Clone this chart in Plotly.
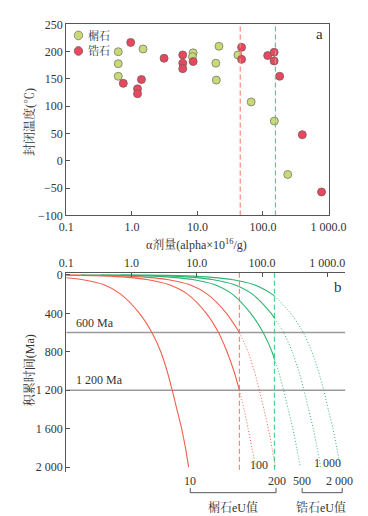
import numpy as np
import plotly.graph_objects as go

# ---- panel a: closure temperature vs alpha dose ----
sphene_dose = [0.62, 0.62, 0.62, 1.48, 8.6, 8.4, 21.3, 19.1, 19.4, 41.4, 66, 149, 239]
sphene_temp = [200, 178, 155, 205, 198, 191, 210, 179, 148, 194, 108, 73, -25]
zircon_dose = [0.96, 0.74, 1.22, 1.22, 1.40, 3.1, 5.97, 5.97, 5.97, 8.6, 47.2, 47.2, 118, 148, 148, 180, 398, 783]
zircon_temp = [217, 142, 132, 123, 149, 188, 194, 179, 169, 182, 208, 186, 193, 199, 183, 155, 48, -57]

# threshold doses (dashed lines)
sphene_cut = 45
zircon_cut = 155

# ---- panel b: accumulation time vs alpha dose for eU values ----
ages = [1, 5, 10, 25, 50, 100, 200, 400, 600, 800, 1000, 1200, 1400, 1600, 1800, 2000]
dose_eu10 = [0.0033, 0.016, 0.033, 0.082, 0.18, 0.37, 0.68, 1.32, 2.05, 2.8, 3.5, 4.2, 4.95, 5.85, 6.7, 7.5]
dose_eu100 = [0.035, 0.17, 0.35, 0.88, 1.8, 3.7, 7.2, 14, 21.5, 29, 37, 45, 53, 61, 70, 80]
dose_eu200 = [0.07, 0.35, 0.7, 1.75, 3.7, 7.6, 14.5, 28.5, 45, 61, 76, 91, 107, 125, 142, 160]
dose_eu500 = [0.17, 0.85, 1.7, 4.2, 9, 18.5, 35, 67, 104, 142, 178, 214, 252, 296, 340, 385]
dose_eu1000 = [0.34, 1.7, 3.4, 8.5, 18, 37, 71, 138, 214, 290, 365, 440, 518, 610, 700, 790]
dose_eu2000 = [0.68, 3.4, 6.8, 17, 36, 74, 142, 275, 428, 580, 730, 880, 1035, 1220, 1400, 1580]

# age where each curve crosses its threshold line
split_eu100 = 1200
split_eu200 = 600
split_eu500 = 880
split_eu1000 = 450
split_eu2000 = 220

ref_ages = [600, 1200]
ref_labels = ['600 Ma', '1 200 Ma']

RED = '#f0604d'
GREEN = '#2fb574'
RED_DASH = '#f4877a'
GREEN_DASH = '#4fcf8e'
SPHENE_FILL = '#c7d978'
ZIRCON_FILL = '#e8485f'
FONT = 'Liberation Serif, Noto Serif CJK SC, Noto Sans CJK SC'
W, H = 368, 516


def fx(x):
    return x / W


def fy(y):
    return 1 - y / H


fig = go.Figure()

fig.add_trace(go.Scatter(
    x=sphene_dose, y=sphene_temp, mode='markers', name='榍石', showlegend=False,
    marker=dict(size=8, color=SPHENE_FILL, line=dict(color='#7a7a6a', width=0.8)),
    xaxis='x', yaxis='y'))
fig.add_trace(go.Scatter(
    x=zircon_dose, y=zircon_temp, mode='markers', name='锆石', showlegend=False,
    marker=dict(size=8, color=ZIRCON_FILL, line=dict(color='#7a5a5a', width=0.8)),
    xaxis='x', yaxis='y'))

# dashed threshold lines in both panels
for cut, col in [(sphene_cut, RED_DASH), (zircon_cut, GREEN_DASH)]:
    fig.add_trace(go.Scatter(x=[cut, cut], y=[-100, 250], mode='lines', showlegend=False,
                             line=dict(color=col, width=1.2, dash='5px,3px'),
                             xaxis='x', yaxis='y', hoverinfo='skip'))
    fig.add_trace(go.Scatter(x=[cut, cut], y=[-22, 2030], mode='lines', showlegend=False,
                             line=dict(color=col, width=1.2, dash='5px,3px'),
                             xaxis='x2', yaxis='y2', hoverinfo='skip'))

# reference age lines
for a in ref_ages:
    fig.add_trace(go.Scatter(x=[0.1, 1900], y=[a, a], mode='lines', showlegend=False,
                             line=dict(color='#9a9a9a', width=1.4),
                             xaxis='x2', yaxis='y2', hoverinfo='skip'))


def add_curve(doses, split, cut, col):
    if split is None:
        fig.add_trace(go.Scatter(x=doses, y=ages, mode='lines', showlegend=False,
                                 line=dict(color=col, width=1.1, shape='spline', smoothing=0.8),
                                 xaxis='x2', yaxis='y2', hoverinfo='skip'))
        return
    sx = [d for d, a in zip(doses, ages) if a < split] + [cut]
    sy = [a for a in ages if a < split] + [split]
    dx = [cut] + [d for d, a in zip(doses, ages) if a > split]
    dy = [split] + [a for a in ages if a > split]
    fig.add_trace(go.Scatter(x=sx, y=sy, mode='lines', showlegend=False,
                             line=dict(color=col, width=1.1, shape='spline', smoothing=0.8),
                             xaxis='x2', yaxis='y2', hoverinfo='skip'))
    fig.add_trace(go.Scatter(x=dx, y=dy, mode='lines', showlegend=False,
                             line=dict(color=col, width=1, dash='1px,2px', shape='spline', smoothing=0.8),
                             xaxis='x2', yaxis='y2', hoverinfo='skip'))


add_curve(dose_eu10, None, sphene_cut, RED)
add_curve(dose_eu100, split_eu100, sphene_cut, RED)
add_curve(dose_eu200, split_eu200, sphene_cut, RED)
add_curve(dose_eu500, split_eu500, zircon_cut, GREEN)
add_curve(dose_eu1000, split_eu1000, zircon_cut, GREEN)
add_curve(dose_eu2000, split_eu2000, zircon_cut, GREEN)

axis_common = dict(showline=True, linecolor='#555', linewidth=1.2, ticks='inside', ticklen=4,
                   tickcolor='#555', showgrid=False, zeroline=False,
                   tickfont=dict(family=FONT, size=12, color='#333'))

fig.update_layout(
    width=W, height=H, margin=dict(l=0, r=0, t=0, b=0),
    plot_bgcolor='white', paper_bgcolor='white', showlegend=False,
    font=dict(family=FONT, color='#333'),
    xaxis=dict(axis_common, type='log', domain=[fx(54), fx(336)], range=[-1, 3.01],
               tickvals=[0.1, 1, 10, 100, 1000], ticktext=['0.1', '1.0', '10.0', '100.0', '1 000.0'],
               mirror=True, anchor='y'),
    yaxis=dict(axis_common, domain=[fy(206), fy(9.7)], range=[-100, 250],
               tickvals=[-100, -50, 0, 50, 100, 150, 200, 250], mirror=True, anchor='x'),
    xaxis2=dict(axis_common, type='log', domain=[fx(54), fx(353.3)], range=[-1, 3.276],
                tickvals=[0.1, 1, 10, 100, 1000], ticktext=['0.1', '1.0', '10.0', '100.0', '1 000.0'],
                side='top', anchor='y2'),
    yaxis2=dict(axis_common, domain=[fy(470), fy(265)], range=[2054, -22],
                tickvals=[0, 400, 800, 1200, 1600, 2000],
                ticktext=['0', '400', '800', '1 200', '1 600', '2 000'], anchor='x2'),
)


def px_note(text, x, y, size=12, xanchor='center', **kw):
    fig.add_annotation(text=text, x=fx(x), y=fy(y), xref='paper', yref='paper',
                       xanchor=xanchor, yanchor='middle', showarrow=False,
                       font=dict(family=FONT, size=size, color='#333'), **kw)


# legend (drawn by hand so the symbol sits close to its label)
for (label, fill, edge), yc in zip([('榍石', SPHENE_FILL, '#7a7a6a'), ('锆石', ZIRCON_FILL, '#7a5a5a')], [21, 37]):
    fig.add_shape(type='circle', xref='paper', yref='paper',
                  x0=fx(67 - 4.5), x1=fx(67 + 4.5), y0=fy(yc + 4.5), y1=fy(yc - 4.5),
                  fillcolor=fill, line=dict(color=edge, width=0.8))
    px_note(label, 75, yc, size=11, xanchor='left')

px_note('封闭温度(℃)', 14, 110, size=12, textangle=-90)
px_note('α剂量(alpha×10<sup>16</sup>/g)', 194, 236, size=12)
px_note('积累时间(Ma)', 14, 365, size=12, textangle=-90)
px_note('a', 326, 20, size=15)
px_note('b', 346, 280, size=15)

for a, lab in zip(ref_ages, ref_labels):
    fig.add_annotation(text=lab, x=fx(62), xref='paper', y=a, yref='y2', xanchor='left',
                       yanchor='bottom', yshift=1, showarrow=False,
                       font=dict(family=FONT, size=12, color='#333'))

# eU labels under panel b
px_note('100', 261, 463, size=12)
px_note('1 000', 334, 461, size=12)
px_note('10', 187, 479, size=12)
px_note('200', 280, 479, size=12)
px_note('500', 307, 479, size=12)
px_note('2 000', 347, 479, size=12)
px_note('榍石eU值', 233, 506, size=12)
px_note('锆石eU值', 327, 506, size=12)


def bracket(x0, x1, ytop=486, ybot=491):
    path = 'M {a},{t} L {a},{b} L {c},{b} L {c},{t}'.format(
        a=fx(x0), c=fx(x1), t=fy(ytop), b=fy(ybot))
    fig.add_shape(type='path', path=path, xref='paper', yref='paper',
                  line=dict(color='#555', width=1))


bracket(187, 279)
bracket(307, 350)

fig.write_html("out.html")
